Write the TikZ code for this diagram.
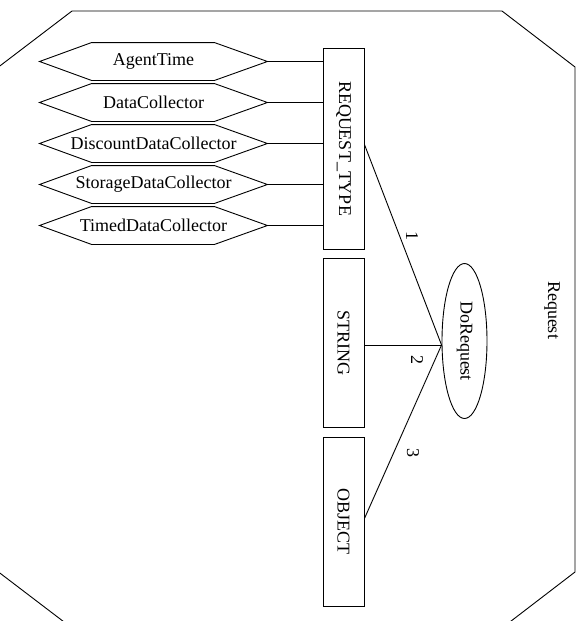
\documentclass[tikz,border=0pt]{standalone}
\usepackage{fontspec}
\setmainfont{Liberation Serif}
\usetikzlibrary{shapes.geometric}

\tikzset{
  hexnode/.style={minimum width=227pt, minimum height=37pt, inner sep=0pt},
  typebox/.style={draw, minimum width=41pt, inner sep=0pt},
  method/.style={draw, ellipse, minimum width=45pt, minimum height=155pt, inner sep=0pt},
  edgelabel/.style={rotate=-90, inner sep=0pt},
  link/.style={draw},
}

\begin{document}
\begin{tikzpicture}[x=1pt, y=-1pt, line width=0.9pt,
  font=\fontsize{18}{20}\selectfont]
  \useasboundingbox (0,0) rectangle (583,621);
  \clip (0,0) rectangle (583,621);

  % cluster outline: octagon, partly outside the page
  \draw (72,11) -- (502,11) -- (575,67) -- (575,572) -- (502,628)
        -- (72,628) -- (-1.5,572) -- (-1.5,67) -- cycle;
  \node[edgelabel] (req) at (552,310) {Request};

  % enumeration values
  \node[hexnode] (h1) at (153.5,61.5)  {AgentTime};
  \node[hexnode] (h2) at (153.5,102.5) {DataCollector};
  \node[hexnode] (h3) at (153.5,143.5) {DiscountDataCollector};
  \node[hexnode] (h4) at (153.5,184.5) {StorageDataCollector};
  \node[hexnode] (h5) at (153.5,225.5) {TimedDataCollector};
  \foreach \n in {h1,h2,h3,h4,h5}
    \draw ([xshift=52pt]\n.north west) -- ([xshift=-53pt]\n.north east)
          -- (\n.east) -- ([xshift=-53pt]\n.south east)
          -- ([xshift=52pt]\n.south west) -- (\n.west) -- cycle;

  % parameter types
  \node[typebox, minimum height=201pt] (rt) at (343.5,148.5) {\rotatebox{-90}{REQUEST\_TYPE}};
  \node[typebox, minimum height=169pt] (st) at (343.5,342.5) {\rotatebox{-90}{STRING}};
  \node[typebox, minimum height=169pt] (ob) at (343.5,521.5) {\rotatebox{-90}{OBJECT}};

  % method
  \node[method] (dr) at (464.5,341) {\rotatebox{-90}{DoRequest}};
  \coordinate (conv) at ([yshift=-4pt]dr.west);

  % value links
  \foreach \n in {h1,h2,h3,h4,h5}
    \draw[link] (\n.east) -- (\n.east -| rt.west);

  % argument links
  \draw[link] ([yshift=4pt]rt.east) -- (conv);
  \draw[link] (st.east |- conv) -- (conv);
  \draw[link] ([yshift=3pt]ob.east) -- (conv);

  \node[edgelabel] (l1) at (412,236) {1};
  \node[edgelabel] (l2) at (417,360) {2};
  \node[edgelabel] (l3) at (413,453) {3};
\end{tikzpicture}
\end{document}
